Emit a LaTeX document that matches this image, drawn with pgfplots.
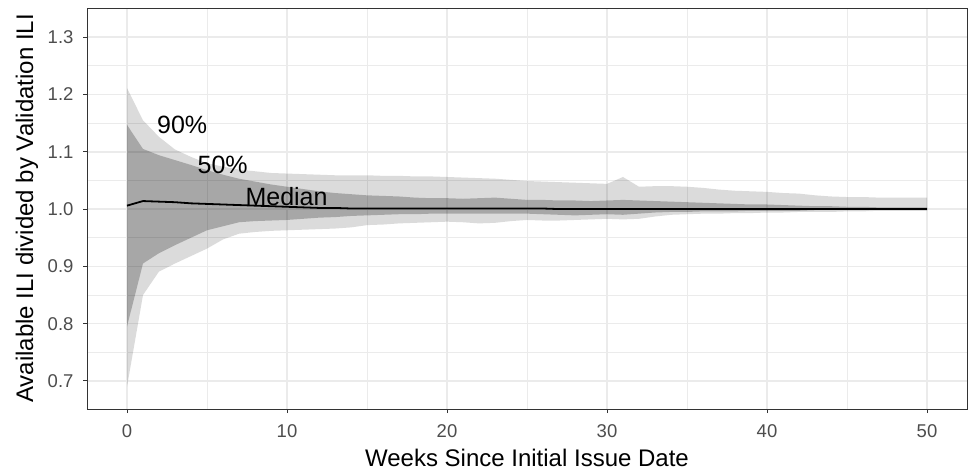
\documentclass[border=0pt]{standalone}
\usepackage{fontspec}
\setmainfont{Liberation Sans}
\usepackage{pgfplots}
\usepackage{pgfplotstable}
\pgfplotsset{compat=1.18}
\usepgfplotslibrary{fillbetween}
\definecolor{tickgray}{HTML}{4D4D4D}
\definecolor{bordergray}{HTML}{333333}
\definecolor{gridgray}{HTML}{EBEBEB}
\pgfplotstableread{
w u90 u50 med l50 l90
0 1.211 1.147 1.006 0.795 0.690
1 1.155 1.105 1.014 0.905 0.850
2 1.126 1.094 1.013 0.923 0.891
3 1.104 1.0855 1.012 0.937 0.905
4 1.091 1.077 1.010 0.950 0.918
5 1.080 1.068 1.009 0.963 0.931
6 1.074 1.060 1.008 0.970 0.947
7 1.069 1.053 1.007 0.977 0.957
8 1.066 1.048 1.006 0.979 0.960
9 1.063 1.043 1.005 0.980 0.962
10 1.062 1.039 1.004 0.981 0.963
11 1.061 1.035 1.003 0.983 0.964
12 1.060 1.031 1.002 0.985 0.965
13 1.059 1.028 1.002 0.986 0.966
14 1.059 1.026 1.001 0.988 0.968
15 1.059 1.024 1.001 0.989 0.972
16 1.058 1.023 1.001 0.990 0.973
17 1.058 1.022 1.001 0.991 0.975
18 1.057 1.020 1.001 0.991 0.976
19 1.057 1.019 1.001 0.992 0.977
20 1.056 1.019 1.001 0.992 0.978
21 1.055 1.018 1.001 0.992 0.977
22 1.054 1.019 1.001 0.992 0.975
23 1.053 1.020 1.001 0.992 0.976
24 1.051 1.018 1.001 0.992 0.979
25 1.049 1.016 1.001 0.992 0.981
26 1.048 1.016 1.001 0.991 0.980
27 1.047 1.015 1.000 0.990 0.980
28 1.046 1.015 1.000 0.989 0.981
29 1.045 1.014 1.000 0.990 0.982
30 1.044 1.015 1.000 0.991 0.983
31 1.056 1.016 1.000 0.990 0.982
32 1.039 1.015 1.000 0.992 0.983
33 1.040 1.014 1.000 0.994 0.987
34 1.040 1.013 1.000 0.995 0.990
35 1.039 1.012 1.000 0.995 0.991
36 1.037 1.011 1.000 0.996 0.992
37 1.034 1.010 1.000 0.996 0.992
38 1.032 1.009 1.000 0.996 0.993
39 1.031 1.008 1.000 0.997 0.993
40 1.030 1.008 1.000 0.997 0.994
41 1.028 1.007 1.000 0.997 0.994
42 1.027 1.006 1.000 0.997 0.995
43 1.024 1.005 1.000 0.998 0.995
44 1.022 1.005 1.000 0.998 0.995
45 1.021 1.004 1.000 0.998 0.996
46 1.021 1.004 1.000 0.998 0.996
47 1.020 1.003 1.000 0.999 0.997
48 1.020 1.003 1.000 0.999 0.997
49 1.020 1.003 1.000 0.999 0.997
50 1.020 1.003 1.000 0.999 0.997
}\bands
\begin{document}
\begin{tikzpicture}
\path (0,0) rectangle (968pt,469pt);
\begin{axis}[
  at={(87pt,60pt)}, anchor=south west,
  scale only axis, width=880pt, height=401pt,
  xmin=-2.5, xmax=52.5, ymin=0.651, ymax=1.351,
  xtick={0,10,...,50}, minor xtick={5,15,...,45},
  ytick={0.7,0.8,...,1.31}, minor ytick={0.75,0.85,...,1.26},
  xtick pos=bottom, ytick pos=left,
  /pgf/number format/assume math mode=true,
  yticklabel style={/pgf/number format/fixed, /pgf/number format/fixed zerofill, /pgf/number format/precision=1},
  tick align=outside, major tick length=4pt, minor tick length=0pt,
  tick style={bordergray, line width=1pt},
  xmajorgrids, ymajorgrids, xminorgrids, yminorgrids,
  major grid style={gridgray, line width=1.6pt},
  minor grid style={gridgray, line width=0.8pt},
  axis line style={bordergray, line width=1pt},
  ticklabel style={font=\fontsize{18.5}{20}\selectfont, text=tickgray},
  xticklabel style={anchor=base, yshift=-24pt},
  yticklabel style={anchor=east, xshift=-6pt},
  xlabel={Weeks Since Initial Issue Date},
  ylabel={Available ILI divided by Validation ILI},
  every axis x label/.style={at={([yshift=-57.7pt]axis description cs:0.5,0)}, anchor=base, font=\fontsize{24}{26}\selectfont},
  every axis y label/.style={at={([xshift=-54pt]axis description cs:0,0.5)}, anchor=base, rotate=90, font=\fontsize{24}{26}\selectfont},
]
\addplot[draw=none, name path=u90, forget plot] table[x=w, y=u90] {\bands};
\addplot[draw=none, name path=l90, forget plot] table[x=w, y=l90] {\bands};
\addplot[draw=none, name path=u50, forget plot] table[x=w, y=u50] {\bands};
\addplot[draw=none, name path=l50, forget plot] table[x=w, y=l50] {\bands};
\addplot[fill=black, fill opacity=0.14, draw=none] fill between[of=u90 and l90];
\addplot[fill=black, fill opacity=0.235, draw=none] fill between[of=u50 and l50];
\addplot[black, line width=1.8pt] table[x=w, y=med] {\bands};
\node[anchor=base, font=\fontsize{25}{26}\selectfont] at (axis cs:3.45,1.1326) {90\%};
\node[anchor=base, font=\fontsize{25}{26}\selectfont] at (axis cs:5.98,1.0628) {50\%};
\node[anchor=base, font=\fontsize{25}{26}\selectfont] at (axis cs:9.97,1.007) {Median};
\end{axis}
\end{tikzpicture}
\end{document}
